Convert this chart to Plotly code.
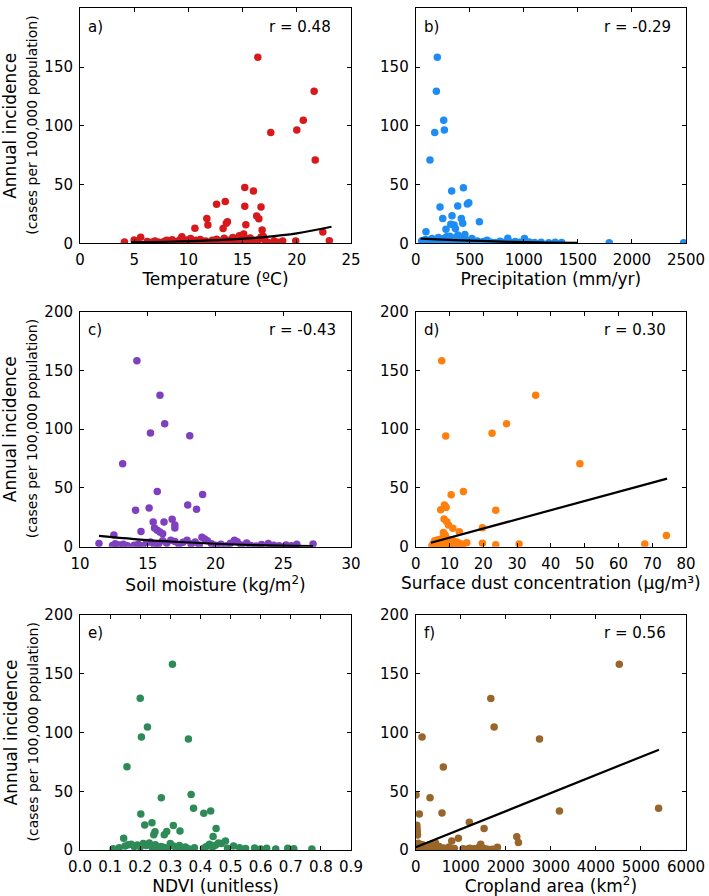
import plotly.graph_objects as go

# ---------------- data ----------------
# a) Temperature
temp_x = [16.4, 21.6, 20.6, 20.0, 17.6, 21.7, 15.2, 16.0, 13.4, 12.6, 15.2, 16.7, 11.7, 16.3, 16.5,
          11.8, 13.6, 13.5, 15.3, 10.6, 13.2, 16.8, 22.4, 23.0, 19.9, 18.7, 17.9,
          4.1, 5.0, 5.3, 5.6, 6.2, 6.6, 6.9, 7.2, 7.5, 7.8, 8.0, 8.3, 8.5, 8.7, 8.9, 9.1, 9.3, 9.4,
          9.6, 9.8, 10.0, 10.2, 10.5, 10.7, 10.9, 11.1, 11.4, 11.6, 11.9, 12.2, 12.4, 12.6, 12.9,
          13.1, 13.3, 13.5, 13.7, 13.9, 14.1, 14.3, 14.5, 14.7, 14.9, 15.1, 15.3, 15.5, 15.7, 15.9,
          16.1, 16.3, 16.5, 16.7, 16.9, 17.1, 17.3, 18.3]
temp_y = [158.3, 129.4, 104.7, 96.5, 94.2, 70.9, 47.4, 44.5, 35.6, 33.3, 31.6, 30.8, 21.2, 23.2, 21.0,
          15.6, 18.4, 17.0, 15.8, 12.9, 12.6, 11.3, 9.6, 2.2, 2.0, 2.0, 2.2,
          1.2, 2.8, 1.0, 5.2, 1.5, 0.8, 2.0, 1.2, 0.6, 1.8, 2.5, 1.0, 3.0, 1.5, 0.8, 2.2, 3.8, 5.5,
          1.2, 2.8, 0.9, 4.0, 1.6, 2.5, 0.7, 3.2, 1.4, 2.0, 0.5, 2.6, 1.2, 3.5, 0.8,
          1.9, 4.2, 2.3, 1.0, 3.1, 5.0, 1.5, 2.7, 6.5, 0.9, 8.0, 3.8, 1.7, 4.5, 0.6,
          2.4, 1.3, 3.3, 5.4, 6.0, 2.0, 0.8, 1.0]
temp_fit_x = [4.7, 8.0, 11.0, 14.0, 17.0, 20.0, 23.2]
temp_fit_y = [0.8, 1.3, 2.1, 3.3, 5.3, 8.5, 14.1]
temp_ticks = [0, 5, 10, 15, 20, 25]

# b) Precipitation
precip_x = [200, 191, 259, 265, 176, 132, 441, 333, 491, 478, 225, 389, 336, 250, 422,
            589, 435, 325, 355, 280, 367, 95, 455,
            55, 70, 90, 110, 130, 150, 165, 180, 195, 210, 225, 240, 255, 270, 285, 300, 315,
            330, 345, 360, 375, 390, 405, 420, 440, 460, 480, 500, 520, 545, 570, 600, 630,
            660, 700, 740, 780, 820, 852, 880, 920, 960, 1006, 1050, 1100, 1160, 1230, 1290,
            1350, 1790, 2478]
precip_y = [158.3, 129.4, 104.7, 96.5, 94.2, 70.9, 47.3, 44.5, 34.6, 33.4, 30.9, 31.7, 23.5, 21.2, 21.2,
            18.4, 17.0, 16.2, 15.5, 11.9, 12.7, 9.9, 7.5,
            2.0, 1.0, 3.2, 0.8, 2.5, 4.0, 1.5, 3.0, 0.7, 5.0, 2.2, 1.2, 3.8, 0.9, 5.5, 2.0, 6.0,
            1.4, 4.5, 3.0, 1.0, 7.0, 2.5, 1.5, 5.0, 3.0, 0.8, 2.2, 4.0, 1.0, 2.0, 0.9, 1.5,
            2.5, 1.0, 0.7, 1.8, 1.0, 4.2, 0.6, 1.6, 0.8, 4.0, 1.2, 0.7, 1.0, 0.5, 0.9,
            0.6, 0.5, 0.5]
precip_fit_x = [45, 300, 600, 900, 1200, 1500]
precip_fit_y = [4.0, 3.0, 2.0, 1.2, 0.7, 0.3]
precip_ticks = [0, 500, 1000, 1500, 2000, 2500]

# c) Soil moisture
soil_x = [14.2, 15.9, 16.25, 15.2, 18.1, 13.15, 15.7, 19.05, 17.95, 15.1, 14.1, 18.6, 16.8, 15.4, 16.2,
          17.0, 17.0, 15.5, 15.7, 15.9, 16.1, 14.5, 12.5,
          11.4, 12.4, 12.6, 12.9, 13.2, 13.5, 14.0, 14.3, 14.6, 14.9, 15.2, 15.5, 15.8, 16.1, 16.4,
          16.7, 17.0, 17.3, 17.6, 17.9, 18.2, 18.5, 18.8, 19.0, 19.2, 19.4, 19.7, 20.0, 20.4, 20.8,
          21.1, 21.4, 21.6, 21.9, 22.3, 22.6, 23.0, 23.4, 23.9, 24.3, 24.7, 25.2, 25.6, 26.0, 27.2]
soil_y = [158.3, 129.0, 104.7, 96.7, 94.5, 70.6, 47.0, 44.5, 35.5, 33.0, 31.0, 31.8, 23.3, 21.0, 21.0,
          18.4, 16.0, 16.0, 14.0, 12.5, 11.0, 13.0, 10.0,
          2.8, 1.0, 2.5, 1.5, 2.0, 0.8, 1.2, 2.0, 0.7, 3.5, 4.0, 1.5, 2.5, 5.0, 3.0,
          5.5, 4.5, 1.8, 3.8, 5.5, 2.2, 4.0, 1.5, 8.0, 6.5, 5.0, 2.5, 1.2, 2.0, 0.9,
          3.0, 5.5, 4.2, 1.5, 3.2, 1.0, 0.7, 1.8, 2.8, 1.2, 0.8, 1.5, 0.9, 2.0, 2.3]
soil_fit_x = [11.4, 14.0, 17.0, 20.0, 23.0, 27.2]
soil_fit_y = [9.2, 6.5, 4.2, 2.5, 1.4, 0.6]
soil_ticks = [10, 15, 20, 25, 30]

# d) Surface dust concentration
dust_x = [7.7, 35.5, 26.9, 22.6, 8.9, 48.6, 14.1, 10.5, 8.5, 9.0, 7.4, 23.7, 8.4, 9.2, 9.7,
          19.75, 11.0, 12.9, 8.2, 8.7, 74.2,
          4.8, 5.2, 5.6, 6.0, 6.3, 6.6, 6.9, 7.2, 7.5, 7.8, 8.1, 8.4, 8.7, 9.0, 9.3, 9.6, 9.9,
          10.2, 10.5, 10.8, 11.1, 11.4, 11.8, 12.2, 12.6, 13.0, 13.5, 14.0, 15.1, 19.75, 23.7,
          30.6, 67.8]
dust_y = [158.3, 129.0, 104.7, 96.5, 94.2, 70.6, 47.0, 44.3, 35.5, 33.5, 31.5, 31.0, 23.5, 21.3, 18.4,
          16.2, 15.6, 12.8, 12.0, 10.0, 9.6,
          0.8, 2.5, 5.0, 1.2, 3.5, 6.0, 2.0, 4.5, 1.0, 7.0, 3.0, 5.5, 1.5, 8.0, 2.5, 4.0, 0.7,
          6.0, 1.8, 3.2, 5.0, 1.0, 2.5, 4.0, 1.2, 2.8, 0.9, 2.0, 3.4, 3.0, 1.7,
          2.3, 2.3]
dust_fit_x = [4.5, 74.4]
dust_fit_y = [3.4, 57.9]
dust_ticks = [0, 10, 20, 30, 40, 50, 60, 70, 80]

# e) NDVI
ndvi_x = [0.307, 0.200, 0.224, 0.204, 0.360, 0.156, 0.369, 0.270, 0.377, 0.411, 0.434, 0.202,
          0.215, 0.239, 0.310, 0.249, 0.245, 0.288, 0.280, 0.332, 0.452, 0.442, 0.145, 0.483,
          0.11, 0.13, 0.15, 0.16, 0.17, 0.18, 0.19, 0.20, 0.21, 0.22, 0.23, 0.24, 0.25, 0.26,
          0.27, 0.28, 0.29, 0.30, 0.31, 0.32, 0.33, 0.34, 0.35, 0.36, 0.38, 0.41, 0.42, 0.43,
          0.44, 0.45, 0.46, 0.47, 0.49, 0.51, 0.53, 0.55, 0.58, 0.60, 0.62, 0.65, 0.69, 0.71, 0.77]
ndvi_y = [158.0, 129.1, 104.7, 96.2, 94.5, 70.8, 47.3, 44.4, 35.5, 31.3, 33.1, 30.6,
          21.2, 23.2, 20.9, 15.6, 13.0, 15.8, 12.9, 16.2, 18.2, 11.4, 9.9, 7.7,
          1.0, 2.0, 3.5, 4.5, 5.0, 3.0, 4.2, 2.5, 5.5, 3.8, 6.0, 2.0, 4.5, 1.5,
          3.0, 2.2, 1.2, 5.5, 3.5, 2.0, 3.8, 1.5, 2.5, 1.0, 2.0, 1.5, 3.0, 5.0,
          2.5, 4.0, 6.0, 5.5, 1.5, 3.5, 2.0, 1.2, 1.8, 0.9, 1.5, 0.8, 1.5, 1.0, 0.8]
ndvi_ticks = [0.0, 0.1, 0.2, 0.3, 0.4, 0.5, 0.6, 0.7, 0.8, 0.9]
ndvi_tick_labels = ["0.0", "0.1", "0.2", "0.3", "0.4", "0.5", "0.6", "0.7", "0.8", "0.9"]

# f) Cropland area
crop_x = [4519, 1667, 1741, 141, 2748, 613, 7, 318, 5392, 3191, 80, 584, 1191, 25, 30,
          35, 40, 1518, 2244, 2281, 947, 800, 1814, 60, 1444,
          10, 30, 50, 70, 90, 120, 150, 180, 210, 240, 270, 300, 330, 360, 400, 440, 480, 520,
          560, 620, 680, 740, 860, 1050, 1150, 1200, 1250, 1300, 1350, 1420, 1460, 1500, 1550,
          1600, 1700]
crop_y = [158.0, 129.0, 104.7, 96.2, 94.5, 70.6, 46.8, 44.4, 35.5, 33.1, 30.7, 31.5, 23.6, 21.0, 18.4,
          15.6, 12.8, 18.3, 11.2, 6.4, 9.9, 7.7, 2.3, 5.7, 5.0,
          2.0, 5.5, 1.0, 3.5, 0.8, 2.5, 4.5, 1.2, 3.0, 0.7, 2.0, 4.0, 1.5, 5.0, 2.5, 6.0, 1.0, 3.0,
          0.6, 1.8, 0.9, 2.5, 1.2, 1.0, 0.8, 1.5, 0.6, 1.0, 0.9, 3.0, 2.0, 1.5, 0.8,
          0.7, 0.6]
crop_fit_x = [0, 5400]
crop_fit_y = [2.3, 85.4]
crop_ticks = [0, 1000, 2000, 3000, 4000, 5000, 6000]

y_ticks = [0, 50, 100, 150, 200]

# ---------------- figure ----------------
FONT = "DejaVu Sans"
W, H = 709, 896

panels = [
    dict(x=temp_x, y=temp_y, fx=temp_fit_x, fy=temp_fit_y, color="#d7191c", xr=[0, 25],
         ticks=temp_ticks, labels=[str(v) for v in temp_ticks],
         title="Temperature (ºC)", label="a)", r="r = 0.48"),
    dict(x=precip_x, y=precip_y, fx=precip_fit_x, fy=precip_fit_y, color="#1e8cf5", xr=[0, 2500],
         ticks=precip_ticks, labels=[str(v) for v in precip_ticks],
         title="Precipitation (mm/yr)", label="b)", r="r = -0.29"),
    dict(x=soil_x, y=soil_y, fx=soil_fit_x, fy=soil_fit_y, color="#7e40bf", xr=[10, 30],
         ticks=soil_ticks, labels=[str(v) for v in soil_ticks],
         title="Soil moisture (kg/m<sup>2</sup>)", label="c)", r="r = -0.43"),
    dict(x=dust_x, y=dust_y, fx=dust_fit_x, fy=dust_fit_y, color="#ff7f0e", xr=[0, 80],
         ticks=dust_ticks, labels=[str(v) for v in dust_ticks],
         title="Surface dust concentration (µg/m³)", label="d)", r="r = 0.30"),
    dict(x=ndvi_x, y=ndvi_y, fx=None, fy=None, color="#2e8b57", xr=[0, 0.9],
         ticks=ndvi_ticks, labels=ndvi_tick_labels,
         title="NDVI (unitless)", label="e)", r=None),
    dict(x=crop_x, y=crop_y, fx=crop_fit_x, fy=crop_fit_y, color="#98652a", xr=[0, 6000],
         ticks=crop_ticks, labels=[str(v) for v in crop_ticks],
         title="Cropland area (km<sup>2</sup>)", label="f)", r="r = 0.56"),
]

col_px = [(80.0, 351.0), (415.7, 686.0)]
row_px = [(8.3, 243.3), (311.7, 546.7), (615.0, 850.0)]

fig = go.Figure()
layout_axes = {}
annotations = []

axis_common = dict(showline=True, linecolor="black", linewidth=1, mirror="allticks",
                   ticks="inside", ticklen=4, tickwidth=1, tickcolor="black",
                   showgrid=False, zeroline=False, automargin=False,
                   tickfont=dict(size=15, color="black", family=FONT))

for i, p in enumerate(panels):
    r, c = divmod(i, 2)
    n = i + 1
    xa = "x" if n == 1 else f"x{n}"
    ya = "y" if n == 1 else f"y{n}"
    x0, x1 = col_px[c]
    y0, y1 = row_px[r]
    fig.add_trace(go.Scatter(x=p["x"], y=p["y"], mode="markers",
                             marker=dict(color=p["color"], size=7.5, line=dict(width=0)),
                             xaxis=xa, yaxis=ya, showlegend=False, hoverinfo="skip"))
    if p["fx"] is not None:
        fig.add_trace(go.Scatter(x=p["fx"], y=p["fy"], mode="lines",
                                 line=dict(color="black", width=2.2, shape="spline"),
                                 xaxis=xa, yaxis=ya, showlegend=False, hoverinfo="skip"))
    layout_axes["xaxis" if n == 1 else f"xaxis{n}"] = dict(
        domain=[x0 / W, x1 / W], anchor=ya, range=p["xr"],
        tickmode="array", tickvals=p["ticks"], ticktext=p["labels"], ticklabelstandoff=3,
        title=dict(text=p["title"], font=dict(size=17, color="black", family=FONT), standoff=2),
        **axis_common)
    layout_axes["yaxis" if n == 1 else f"yaxis{n}"] = dict(
        domain=[1 - y1 / H, 1 - y0 / H], anchor=xa, range=[0, 200],
        tickmode="array", tickvals=y_ticks, ticktext=[str(v) for v in y_ticks],
        ticklabelstandoff=3, **axis_common)
    annotations.append(dict(text=p["label"], xref=f"{xa} domain", yref=f"{ya} domain",
                            x=0.022, y=0.922, xanchor="left", yanchor="middle", showarrow=False,
                            font=dict(size=15, color="black", family=FONT)))
    if p["r"]:
        annotations.append(dict(text=p["r"], xref=f"{xa} domain", yref=f"{ya} domain",
                                x=0.69, y=0.922, xanchor="left", yanchor="middle", showarrow=False,
                                font=dict(size=15, color="black", family=FONT)))
    if c == 0:
        yc = 1 - (y0 + y1) / 2 / H
        annotations.append(dict(text="Annual incidence", xref="paper", yref="paper",
                                x=10 / W, y=yc, xanchor="center", yanchor="middle", textangle=-90,
                                showarrow=False, font=dict(size=17, color="black", family=FONT)))
        annotations.append(dict(text="(cases per 100,000 population)", xref="paper", yref="paper",
                                x=32 / W, y=yc, xanchor="center", yanchor="middle", textangle=-90,
                                showarrow=False, font=dict(size=14, color="black", family=FONT)))

fig.update_layout(**layout_axes)
fig.update_layout(width=W, height=H, margin=dict(l=0, r=0, t=0, b=0, autoexpand=False),
                  paper_bgcolor="white", plot_bgcolor="white",
                  font=dict(family=FONT, color="black"),
                  annotations=annotations, showlegend=False)

# remove the browser's default 8px page margin so the figure sits at the window's corner
fig.write_html("out.html",
               config={"displayModeBar": False},
               post_script="document.body.style.margin='0';document.body.style.padding='0';"
                           "document.documentElement.style.overflow='hidden';")
